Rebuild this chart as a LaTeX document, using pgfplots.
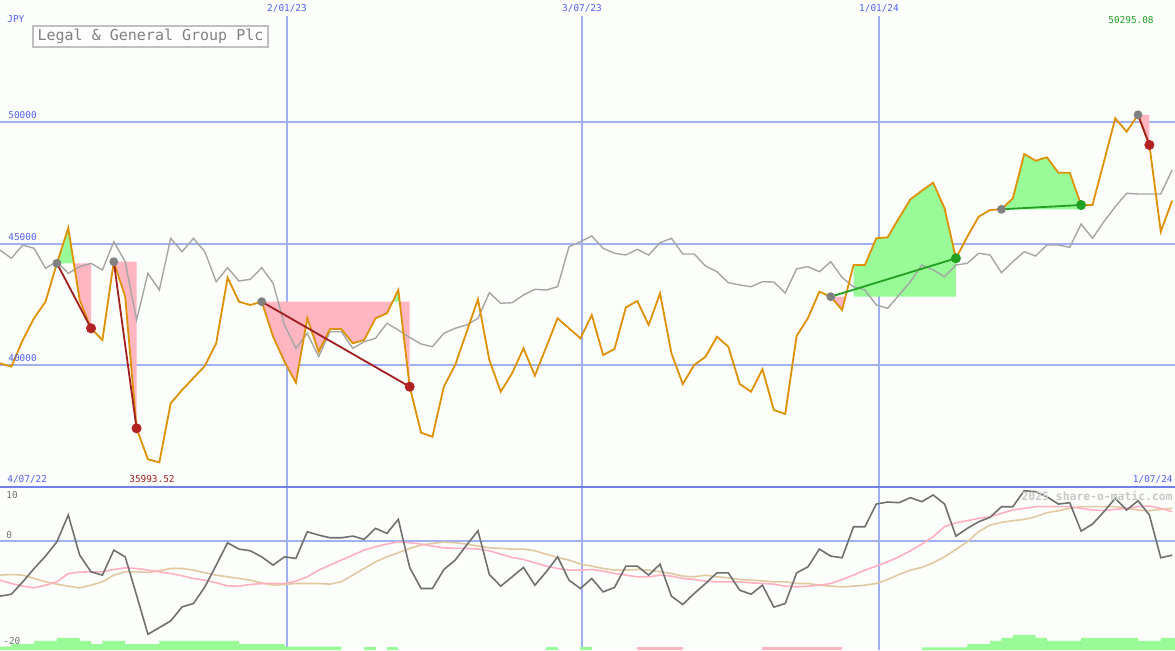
\documentclass[border=0pt]{standalone}
\usepackage{pgfplots}
\pgfplotsset{compat=1.18}
\usepackage{pgfplotstable}
\usepackage{fontspec}
\setmainfont{DejaVu Sans Mono}

\definecolor{bgc}{RGB}{252,254,252}
\definecolor{gridc}{RGB}{160,176,240}
\definecolor{sepc}{RGB}{112,128,232}
\definecolor{lblue}{RGB}{80,96,240}
\definecolor{pricec}{RGB}{221,145,0}
\definecolor{avgc}{RGB}{165,165,165}
\definecolor{upfill}{RGB}{152,251,152}
\definecolor{dnfill}{RGB}{255,182,193}
\definecolor{lossc}{RGB}{160,30,30}
\definecolor{lossdot}{RGB}{178,34,34}
\definecolor{gainc}{RGB}{34,160,34}
\definecolor{dotgray}{RGB}{128,128,128}
\definecolor{oscc}{RGB}{112,112,112}
\definecolor{fastc}{RGB}{255,176,192}
\definecolor{slowc}{RGB}{225,200,160}
\definecolor{boxc}{RGB}{192,192,192}
\definecolor{titlec}{RGB}{128,128,128}
\definecolor{markc}{RGB}{200,200,200}

% weekly closes and the grey average, k = week index
\pgfplotstableread{
k price avg
0 40070 44733
1 39931 44391
2 41029 44939
3 41935 44803
4 42605 43980
5 44185 44251
6 45638 43774
7 42675 44046
8 41511 44185
9 41029 43910
10 44251 45074
11 42811 44251
12 37396 41852
13 36120 43774
14 35993.52 43087
15 38425 45214
16 38972 44663
17 39466 45214
18 39959 44663
19 40894 43428
20 43593 44004
21 42605 43457
22 42470 43527
23 42605 44004
24 41165 43363
25 40136 41647
26 39272 40688
27 41922 41305
28 40548 40342
29 41482 41371
30 41482 41371
31 40894 40688
32 41029 40959
33 41922 41099
34 42128 41717
35 43087 41441
36 39108 41132
37 37215 40865
38 37050 40754
39 39108 41305
40 40000 41511
41 41358 41647
42 42704 41922
43 40206 42976
44 38902 42540
45 39659 42564
46 40688 42881
47 39560 43116
48 40741 43087
49 41922 43223
50 41511 44869
51 41099 45074
52 42058 45309
53 40412 44803
54 40659 44597
55 42375 44527
56 42634 44762
57 41647 44527
58 42951 45033
59 40482 45214
60 39219 44568
61 40000 44568
62 40342 44074
63 41165 43840
64 40754 43387
65 39219 43293
66 38902 43223
67 39824 43428
68 38149 43416
69 37984 42963
70 41194 43959
71 41935 44046
72 43017 43840
73 42811 44251
74 42264 43601
75 44116 43223
76 44116 43087
77 45214 42470
78 45255 42334
79 46050 42881
80 46819 43428
81 47173 44116
82 47502 43910
83 46449 43634
84 44391 44116
85 45280 44185
86 46103 44597
87 46379 44527
88 46408 43799
89 46860 44251
90 48683 44663
91 48407 44486
92 48547 44939
93 47914 44939
94 47914 44844
95 46585 45803
96 46585 45214
97 48354 45897
98 50152 46515
99 49601 47066
100 50295.08 47037
101 49054 47037
102 45486 47037
103 46761 48025
}\pricetab

% oscillator panel
\pgfplotstableread{
k osc fast slow
0 -10.15 -7.21 -6.29
1 -9.78 -7.82 -6.17
2 -7.52 -8.31 -6.29
3 -5.07 -8.62 -6.90
4 -2.81 -8.13 -7.51
5 -0.18 -7.51 -7.94
6 4.72 -5.99 -8.31
7 -2.62 -5.74 -8.62
8 -5.69 -5.68 -8.13
9 -6.29 -5.68 -7.51
10 -1.71 -5.25 -6.29
11 -2.94 -4.95 -5.68
12 -9.96 -5.07 -5.68
13 -17.12 -5.37 -5.80
14 -15.90 -5.68 -5.50
15 -14.68 -5.99 -5.07
16 -12.11 -6.41 -5.07
17 -11.49 -6.90 -5.37
18 -8.44 -7.21 -5.86
19 -4.46 -7.70 -6.29
20 -0.37 -8.25 -6.60
21 -1.52 -8.31 -6.90
22 -1.83 -8.00 -7.21
23 -2.94 -7.82 -7.70
24 -4.46 -7.82 -8.13
25 -2.94 -7.82 -8.00
26 -3.23 -7.39 -7.82
27 1.65 -6.60 -7.82
28 1.05 -5.37 -7.82
29 0.55 -4.46 -7.94
30 0.55 -3.54 -7.51
31 0.86 -2.62 -6.29
32 0.26 -1.70 -5.07
33 2.28 -1.09 -3.85
34 1.36 -0.60 -2.93
35 3.93 -0.18 -2.19
36 -4.88 -0.36 -1.40
37 -8.74 -0.60 -0.79
38 -8.74 -0.97 -0.48
39 -5.26 -1.28 -0.24
40 -3.54 -1.40 -0.36
41 -0.79 -1.40 -0.60
42 1.83 -1.52 -0.97
43 -6.17 -1.83 -1.28
44 -8.31 -2.44 -1.40
45 -6.60 -3.05 -1.52
46 -4.88 -3.42 -1.52
47 -8.13 -4.03 -1.83
48 -5.69 -4.64 -2.44
49 -2.94 -5.07 -3.05
50 -7.21 -5.37 -3.54
51 -8.74 -5.37 -4.27
52 -6.90 -5.25 -4.64
53 -9.36 -5.56 -5.07
54 -8.55 -5.99 -5.37
55 -4.64 -6.29 -5.37
56 -4.64 -6.60 -5.25
57 -6.29 -6.60 -5.37
58 -4.28 -6.29 -5.68
59 -10.15 -6.47 -5.99
60 -11.67 -6.90 -6.47
61 -9.65 -7.09 -6.60
62 -7.82 -7.39 -6.29
63 -5.87 -7.51 -6.60
64 -5.87 -7.51 -6.78
65 -9.05 -7.51 -7.09
66 -9.78 -7.70 -7.21
67 -8.13 -7.82 -7.33
68 -12.15 -7.94 -7.51
69 -11.49 -8.31 -7.51
70 -5.87 -8.43 -7.82
71 -4.77 -8.31 -7.82
72 -1.52 -8.13 -8.13
73 -2.81 -7.82 -8.31
74 -3.11 -7.09 -8.43
75 2.57 -6.29 -8.31
76 2.57 -5.37 -8.13
77 6.73 -4.64 -7.82
78 7.10 -3.85 -7.09
79 6.98 -2.93 -6.17
80 7.90 -1.83 -5.37
81 7.16 -0.60 -4.88
82 8.39 0.74 -4.03
83 6.73 2.58 -2.93
84 0.86 3.31 -1.58
85 2.27 3.68 -0.18
86 3.49 4.11 1.66
87 4.29 4.41 2.88
88 6.24 5.02 3.37
89 6.24 5.64 3.68
90 9.17 5.94 3.92
91 8.99 6.25 4.41
92 8.07 6.25 5.15
93 6.73 6.25 5.51
94 6.97 6.25 5.94
95 1.78 5.94 6.25
96 3.06 5.64 6.25
97 5.32 5.51 6.25
98 7.78 5.76 6.25
99 5.63 5.94 5.94
100 7.34 6.25 5.64
101 4.72 6.37 5.51
102 -3.11 5.94 5.76
103 -2.62 5.33 5.94
}\osctab

\begin{document}
\begin{tikzpicture}
\useasboundingbox (0,0) rectangle (587.5pt,-325pt);
\fill[bgc] (0,0) rectangle (587.5pt,-325pt);

% price panel
\begin{axis}[at={(0,0)}, anchor=north west, scale only axis,
    width=587.5pt, height=243.5pt, hide axis,
    xmin=0, xmax=103.25, ymin=34980, ymax=55020]
  \draw[gridc, line width=1pt] (axis cs:0,50000) -- (axis cs:103.25,50000);
  \draw[gridc, line width=1pt] (axis cs:0,45000) -- (axis cs:103.25,45000);
  \draw[gridc, line width=1pt] (axis cs:0,40000) -- (axis cs:103.25,40000);
  \draw[gridc, line width=0.6pt] (axis cs:25.22,34980) -- (axis cs:25.22,54362);
  \draw[gridc, line width=0.6pt] (axis cs:51.14,34980) -- (axis cs:51.14,54362);
  \draw[gridc, line width=0.6pt] (axis cs:77.24,34980) -- (axis cs:77.24,54362);

  % trade areas between the close and the entry level
  \addplot[draw=none, fill=upfill] coordinates {(5,44185)(6,45638)(6.49,44185)};
  \addplot[draw=none, fill=dnfill] coordinates {(6.49,44185)(7,42675)(8,41511)(8,44185)};
  \addplot[draw=none, fill=dnfill] coordinates {(10,44251)(11,42811)(12,37396)(12,44251)};
  \addplot[draw=none, fill=dnfill] coordinates {(23,42605)(24,41165)(25,40136)(26,39272)(27,41922)(28,40548)(29,41482)(30,41482)(31,40894)(32,41029)(33,41922)(34,42128)(34.5,42605)(35.12,42605)(36,39108)(36,42605)};
  \addplot[draw=none, fill=upfill] coordinates {(34.5,42605)(35,43087)(35.12,42605)};
  \addplot[draw=none, fill=dnfill] coordinates {(73,42811)(74,42264)(74.3,42811)};
  \addplot[draw=none, fill=upfill] coordinates {(75,42811)(75,44116)(76,44116)(77,45214)(78,45255)(79,46050)(80,46819)(81,47173)(82,47502)(83,46449)(84,44391)(84,42811)};
  \addplot[draw=none, fill=upfill] coordinates {(88,46408)(89,46860)(90,48683)(91,48407)(92,48547)(93,47914)(94,47914)(95,46585)(95,46408)};
  \addplot[draw=none, fill=dnfill] coordinates {(100,50295.08)(101,49054)(101,50295.08)};

  \addplot[avgc, line width=0.7pt] table[x=k, y=avg] {\pricetab};
  \addplot[pricec, line width=0.9pt] table[x=k, y=price] {\pricetab};

  % trade lines
  \addplot[lossc, line width=0.9pt] coordinates {(5,44185)(8,41511)};
  \addplot[lossc, line width=0.9pt] coordinates {(10,44251)(12,37396)};
  \addplot[lossc, line width=0.9pt] coordinates {(23,42605)(36,39108)};
  \addplot[gainc, line width=0.9pt] coordinates {(73,42811)(84,44391)};
  \addplot[gainc, line width=0.9pt] coordinates {(88,46408)(95,46585)};
  \addplot[lossc, line width=0.9pt] coordinates {(100,50295.08)(101,49054)};

  \addplot[dotgray, only marks, mark=*, mark size=2pt, mark options={solid, draw=dotgray, fill=dotgray}]
    coordinates {(5,44185)(10,44251)(23,42605)(73,42811)(88,46408)(100,50295.08)};
  \addplot[lossdot, only marks, mark=*, mark size=2.3pt, mark options={solid, draw=lossdot, fill=lossdot}]
    coordinates {(8,41511)(12,37396)(36,39108)(101,49054)};
  \addplot[gainc, only marks, mark=*, mark size=2.3pt, mark options={solid, draw=gainc, fill=gainc}]
    coordinates {(84,44391)(95,46585)};
\end{axis}

% oscillator panel
\begin{axis}[at={(0,-243.5pt)}, anchor=north west, scale only axis,
    width=587.5pt, height=81.5pt, hide axis,
    xmin=0, xmax=103.25, ymin=-20, ymax=9.85]
  \draw[gridc, line width=1pt] (axis cs:0,0) -- (axis cs:103.25,0);
  \draw[gridc, line width=0.6pt] (axis cs:25.22,-20) -- (axis cs:25.22,9.85);
  \draw[gridc, line width=0.6pt] (axis cs:51.14,-20) -- (axis cs:51.14,9.85);
  \draw[gridc, line width=0.6pt] (axis cs:77.24,-20) -- (axis cs:77.24,9.85);

  \addplot[draw=none, fill=upfill] coordinates {(0,-20)(0,-19.39)(1,-19.39)(1,-18.9)(3,-18.9)(3,-18.35)(5,-18.35)(5,-17.8)(7,-17.8)(7,-18.35)(8,-18.35)(8,-18.9)(9,-18.9)(9,-18.35)(11,-18.35)(11,-18.9)(14,-18.9)(14,-18.35)(21,-18.35)(21,-18.9)(25,-18.9)(25,-19.39)(30,-19.39)(30,-20)};
  \addplot[draw=none, fill=upfill] coordinates {(32,-20)(32,-19.39)(33,-19.39)(33,-20)};
  \addplot[draw=none, fill=upfill] coordinates {(34,-20)(34,-19.39)(35,-19.39)(35,-20)};
  \addplot[draw=none, fill=upfill] coordinates {(48,-20)(48,-19.39)(49,-19.39)(49,-20)};
  \addplot[draw=none, fill=upfill] coordinates {(51,-20)(51,-19.39)(52,-19.39)(52,-20)};
  \addplot[draw=none, fill=dnfill] coordinates {(56,-20)(56,-19.45)(60,-19.45)(60,-20)};
  \addplot[draw=none, fill=dnfill] coordinates {(67,-20)(67,-19.5)(74,-19.5)(74,-20)};
  \addplot[draw=none, fill=upfill] coordinates {(81,-20)(81,-19.5)(85,-19.5)(85,-18.9)(87,-18.9)(87,-18.35)(88,-18.35)(88,-17.8)(89,-17.8)(89,-17.25)(91,-17.25)(91,-17.8)(92,-17.8)(92,-18.35)(95,-18.35)(95,-17.8)(100,-17.8)(100,-18.35)(102,-18.35)(102,-17.8)(103.25,-17.8)(103.25,-20)};

  \addplot[slowc, line width=0.8pt] table[x=k, y=slow] {\osctab};
  \addplot[fastc, line width=0.8pt] table[x=k, y=fast] {\osctab};
  \addplot[oscc, line width=0.8pt] table[x=k, y=osc] {\osctab};
\end{axis}

% labels, in pixel units of the original picture
\begin{scope}[x=0.5pt, y=-0.5pt, every node/.style={inner sep=0pt, font=\fontsize{4.7}{5}\selectfont}]
  \draw[sepc, line width=1pt] (0,487) -- (1175,487);
  \node[anchor=west, lblue] at (7,19) {JPY};
  \draw[boxc, line width=1pt, fill=white] (33,26) rectangle (268,47);
  \node[titlec, font=\fontsize{7.5}{8}\selectfont] at (150.5,36.5) {Legal \& General Group Plc};
  \node[lblue] at (287,8) {2/01/23};
  \node[lblue] at (582,8) {3/07/23};
  \node[lblue] at (879,8) {1/01/24};
  \node[gainc] at (1131,20) {50295.08};
  \node[anchor=west, lblue] at (8,115) {50000};
  \node[anchor=west, lblue] at (8,237) {45000};
  \node[anchor=west, lblue] at (8,358) {40000};
  \node[anchor=west, lblue] at (7,479) {4/07/22};
  \node[lossc] at (152,479) {35993.52};
  \node[anchor=east, lblue] at (1173,479) {1/07/24};
  \node[anchor=west, oscc] at (6,495) {10};
  \node[anchor=west, oscc] at (6,535) {0};
  \node[anchor=west, oscc] at (3,641) {-20};
  \node[anchor=east, markc, font=\bfseries\fontsize{5.7}{6}\selectfont] at (1173,496) {2025 share-o-matic.com};
\end{scope}
\end{tikzpicture}
\end{document}
